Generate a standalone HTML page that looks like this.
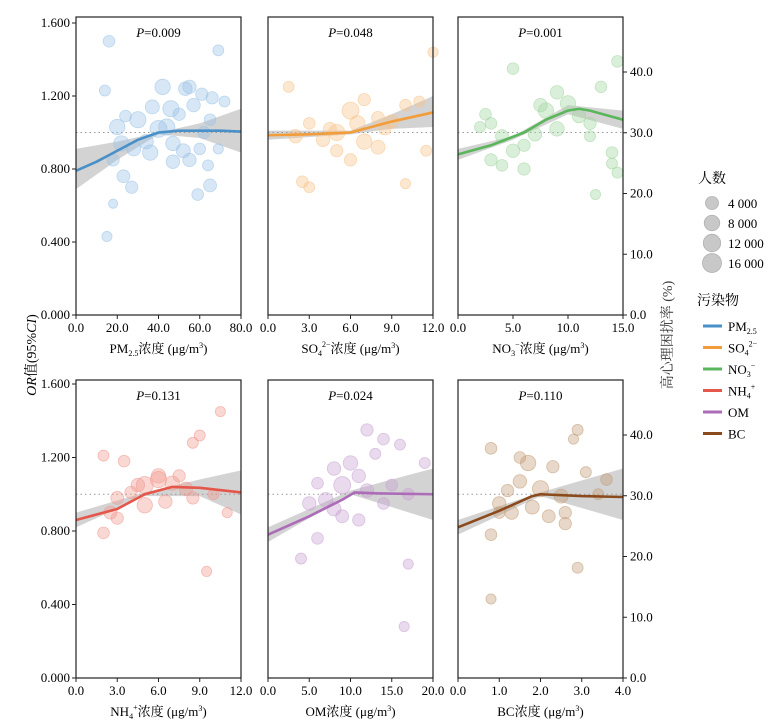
<!DOCTYPE html>
<html><head><meta charset="utf-8">
<style>
body{margin:0;background:#fff;}
svg{display:block;font-family:"Liberation Serif","Noto Serif CJK SC",serif;}
</style></head>
<body>
<svg id="c" width="774" height="722"></svg>
<script>
// ---- data ----
const pollutants = ["PM2.5","SO4","NO3","NH4","OM","BC"];
const pValues = ["0.009","0.048","0.001","0.131","0.024","0.110"];
const xMaxes = [80,12,15,12,20,4];
const xTickLabels = [["0.0","20.0","40.0","60.0","80.0"],["0.0","3.0","6.0","9.0","12.0"],["0.0","5.0","10.0","15.0"],["0.0","3.0","6.0","9.0","12.0"],["0.0","5.0","10.0","15.0","20.0"],["0.0","1.0","2.0","3.0","4.0"]];
const yTickLabels = ["0.000","0.400","0.800","1.200","1.600"];
const rightTickLabels = ["0.0","10.0","20.0","30.0","40.0"];
const curveX = [[0,10,20,30,40,50,60,70,80],[0,3,6,7,9,12],[0,3,6,8,10,11,12,15],[0,3,5,7,9,12],[0,5,9,10.5,13,20],[0,1,1.8,2,3,4]];
const curveY = [[0.79,0.84,0.9,0.96,1.0,1.01,1.01,1.01,1.005],[0.985,0.99,1.0,1.02,1.06,1.11],[0.88,0.93,1.0,1.07,1.12,1.13,1.12,1.07],[0.86,0.92,1.0,1.04,1.035,1.01],[0.78,0.88,0.97,1.01,1.005,1.0],[0.82,0.91,0.99,1.0,0.99,0.985]];
const ciX = [[0,20,40,60,80],[0,6,9,12],[0,5,10,15],[0,5,9,12],[0,10,20],[0,2,4]];
const ciUpper = [[0.91,0.95,1.0,1.05,1.13],[1.01,1.01,1.1,1.2],[0.91,0.98,1.15,1.12],[0.9,1.01,1.08,1.13],[0.82,1.02,1.14],[0.86,1.01,1.14]];
const ciLower = [[0.69,0.85,0.99,0.97,0.89],[0.96,0.99,1.02,1.03],[0.85,0.96,1.1,1.02],[0.82,0.99,0.99,0.89],[0.74,1.0,0.86],[0.78,0.99,0.86]];
const pointsX = [
[16,14,42,53,55,61,66,72,57,46,37,30,24,20,40,44,50,65,22,28,34,36,47,52,55,60,18,23,27,47,64,65,59,18,15,69,69,62],
[1.5,6,7,8,10,11,9,3,5,6.5,4,7,8,5,6,2.5,3,10,11.5,12,8.5,4.5,2],
[5,9,13,14.5,8,10,11,12,9,7,4,3,2,6,5,3,4,6,12,14,14,14.5,12.5,7.5,2.5],
[2,3.5,6,9,10.5,8.5,5,6,7,8,4,3,2.5,3,5,6.5,8.5,10,11,9.5,4.5,7.5,2],
[12,14,16,10,8,11,6,9,12,7,5,8,9,11,14,17,19,6,4,17,16.5,13,15],
[0.8,1.5,2.3,2.9,2.8,1.7,2,1.2,1.5,2.5,1,1.3,1.8,2.2,2.6,3.6,3.4,0.8,2.6,1,2.9,0.8,3.1]];
const pointsY = [
[1.5,1.23,1.25,1.24,1.25,1.21,1.19,1.17,1.15,1.13,1.14,1.07,1.09,1.03,1.02,1.03,1.10,1.07,0.94,0.91,0.95,0.89,0.94,0.9,0.85,0.91,0.85,0.76,0.7,0.84,0.82,0.71,0.66,0.61,0.43,1.45,0.91,1.0],
[1.25,1.12,1.18,1.08,1.15,1.17,1.06,1.05,1.0,1.05,0.96,0.95,0.92,0.9,0.85,0.73,0.7,0.72,0.9,1.44,1.02,1.02,0.98],
[1.35,1.22,1.25,1.39,1.12,1.16,1.09,1.05,1.02,0.99,0.98,1.05,1.03,0.93,0.9,0.85,0.82,0.8,0.98,0.89,0.83,0.78,0.66,1.15,1.1],
[1.21,1.18,1.1,1.32,1.45,1.28,1.05,1.08,1.06,1.03,1.01,0.98,0.9,0.87,0.94,0.96,0.98,1.0,0.9,0.58,1.05,1.1,0.79],
[1.35,1.3,1.27,1.17,1.14,1.1,1.06,1.05,1.02,0.97,0.95,0.92,0.88,0.86,0.95,1.0,1.17,0.76,0.65,0.62,0.28,1.22,1.05],
[1.25,1.2,1.15,1.35,1.3,1.17,1.03,1.02,1.07,0.99,0.95,0.9,0.93,0.88,0.9,1.08,1.0,0.78,0.84,0.9,0.6,0.43,1.12]];
const pointsN = [
[5000,4000,12000,8000,8000,6000,6000,4000,8000,14000,9000,14000,5000,12000,16000,14000,6000,5000,12000,9000,10000,12000,10000,9000,8000,5000,6000,7000,6000,8000,4000,7000,5000,2000,3000,4000,3000,6000],
[4000,16000,6000,7000,5000,4000,8000,5000,14000,12000,8000,12000,9000,6000,6000,5000,4000,3000,4000,3000,6000,7000,8000],
[5000,8000,5000,5000,12000,12000,8000,6000,10000,8000,7000,5000,4000,6000,8000,6000,5000,6000,4000,5000,4000,4000,3000,8000,5000],
[4000,5000,10000,4000,3000,4000,16000,14000,10000,8000,6000,7000,7000,6000,12000,8000,6000,4000,3000,3000,8000,6000,5000],
[6000,5000,4000,10000,8000,8000,5000,16000,8000,10000,8000,9000,7000,6000,5000,5000,4000,5000,4000,3000,3000,4000,5000],
[5000,5000,6000,4000,3000,12000,14000,6000,8000,9000,8000,8000,9000,7000,6000,5000,4000,5000,6000,5000,4000,3000,4000]];
const legendCounts = [4000,8000,12000,16000];
const legendCountLabels = ["4 000","8 000","12 000","16 000"];

const colors = ["#4a90c8","#f39c3a","#5ab65a","#e4574a","#ac6cb8","#8b4a1c"];
const fills = ["#9cc3e6","#f8c48c","#a3d6a1","#f09a90","#c9a3d3","#c39d78"];
const NS="http://www.w3.org/2000/svg";
const svg=document.getElementById('c');
function el(tag,attrs,parent,text){const e=document.createElementNS(NS,tag);for(const k in attrs)e.setAttribute(k,attrs[k]);if(text!==undefined)e.textContent=text;(parent||svg).appendChild(e);return e;}
function rOf(n){return 2.5+Math.sqrt(n/16000)*6;}

const lefts=[76,268,458];
const rows=[{top:17,bot:315,y16:23},{top:380,bot:678,y16:384}];
const W=165;
const xTitles=[["PM","2.5","","3"],["SO","4","2−","3"],["NO","3","−","3"],["NH","4","+","3"],["OM","","","3"],["BC","","","3"]];

for(let i=0;i<6;i++){
  const row=rows[Math.floor(i/3)], L=lefts[i%3], R=L+W;
  const g=el('g',{},svg);
  
  
  const xs=v=>L+v/xMaxes[i]*W;
  const ys=v=>row.bot-v/1.6*(row.bot-row.y16);
  let d='';
  ciX[i].forEach((x,k)=>{d+=(k?'L':'M')+xs(x)+','+ys(ciUpper[i][k]);});
  for(let k=ciX[i].length-1;k>=0;k--)d+='L'+xs(ciX[i][k])+','+ys(ciLower[i][k]);
  const band=el('path',{d:d+'Z',fill:'#c8c8c8','fill-opacity':0.8},g);
  
  
  const ref=el('line',{x1:L,x2:R,y1:ys(1),y2:ys(1),stroke:'#999','stroke-dasharray':'1.5,3','stroke-width':1},g);
  
  
  pointsX[i].forEach((x,k)=>{
    const c=el('circle',{cx:xs(x),cy:ys(pointsY[i][k]),r:rOf(pointsN[i][k]),fill:fills[i],'fill-opacity':0.4,stroke:fills[i],'stroke-opacity':0.6,'stroke-width':0.8},g);
    
    
  });
  let cd='';curveX[i].forEach((x,k)=>{cd+=(k?'L':'M')+xs(x)+','+ys(curveY[i][k]);});
  const cv=el('path',{d:cd,fill:'none',stroke:colors[i],'stroke-width':2.6,'stroke-linejoin':'round'},g);
  
  
  el('rect',{x:L,y:row.top,width:W,height:row.bot-row.top,fill:'none',stroke:'#222','stroke-width':1.2},g);
  const pt=el('text',{x:L+W/2,y:row.top+20,'text-anchor':'middle','font-size':13},g);
  el('tspan',{'font-style':'italic'},pt,'P');
  el('tspan',{},pt,'='+pValues[i]);
  
  
  const tl=xTickLabels[i], step=xMaxes[i]/(tl.length-1);
  tl.forEach((t,k)=>{
    const x=xs(k*step);
    el('line',{x1:x,x2:x,y1:row.bot,y2:row.bot+4,stroke:'#222'},g);
    const tx=el('text',{x:x,y:row.bot+17,'text-anchor':'middle','font-size':13},g,t);
    
    
  });
  const xt=el('text',{x:L+W/2,y:row.bot+38,'text-anchor':'middle','font-size':13},g);
  const p=xTitles[i];
  el('tspan',{},xt,p[0]);
  if(p[1]){
    el('tspan',{'font-size':8,dy:3},xt,p[1]);
    if(p[2]){el('tspan',{'font-size':8,dy:-9},xt,p[2]);el('tspan',{dy:6},xt,'浓度 (μg/m');}
    else el('tspan',{dy:-3},xt,'浓度 (μg/m');
  } else el('tspan',{},xt,'浓度 (μg/m');
  el('tspan',{'font-size':8,dy:-5},xt,p[3]);
  el('tspan',{dy:5},xt,')');
  
  
  if(i%3===0){
    yTickLabels.forEach((t,k)=>{
      const y=ys(k*0.4);
      el('line',{x1:L-4,x2:L,y1:y,y2:y,stroke:'#222'},g);
      const tx=el('text',{x:L-6,y:y+4,'text-anchor':'end','font-size':13},g,t);
      
      
    });
  }
  if(i%3===2){
    const yr=v=>row.bot-v/10*((row.bot-(row.top+55))/4);
    rightTickLabels.forEach((t,k)=>{
      const y=yr(k*10);
      el('line',{x1:R,x2:R+4,y1:y,y2:y,stroke:'#222'},g);
      const tx=el('text',{x:R+7,y:y+4,'font-size':13},g,t);
      
      
    });
  }
}
const yt=el('text',{transform:'translate(36,355) rotate(-90)','text-anchor':'middle','font-size':14});
el('tspan',{'font-style':'italic'},yt,'OR');
el('tspan',{},yt,'值(95%');
el('tspan',{'font-style':'italic'},yt,'CI');
el('tspan',{},yt,')');


const rt=el('text',{transform:'translate(672,335) rotate(-90)','text-anchor':'middle','font-size':14,fill:'#333'},svg,'高心理困扰率 (%)');


const lt=el('text',{x:698,y:183,'font-size':14},svg,'人数');


legendCounts.forEach((n,k)=>{
  const y=203+k*20;
  const c=el('circle',{cx:712,cy:y,r:rOf(n)+1,fill:'#c8c8c8',stroke:'#b0b0b0','stroke-width':0.8});
  
  
  const t=el('text',{x:728,y:y+5,'font-size':13},svg,legendCountLabels[k]);
  
  
});
const pl=el('text',{x:697,y:305,'font-size':14},svg,'污染物');


const legNames=[["PM","2.5",""],["SO","4","2−"],["NO","3","−"],["NH","4","+"],["OM","",""],["BC","",""]];
legNames.forEach((nm,k)=>{
  const y=326+k*21.5;
  const ln=el('line',{x1:703,x2:722,y1:y,y2:y,stroke:colors[k],'stroke-width':3});
  
  
  const t=el('text',{x:728,y:y+5,'font-size':13});
  el('tspan',{},t,nm[0]);
  if(nm[1])el('tspan',{'font-size':8,dy:3},t,nm[1]);
  if(nm[2])el('tspan',{'font-size':8,dy:-9},t,nm[2]);
  
  
});
</script>
</body></html>
